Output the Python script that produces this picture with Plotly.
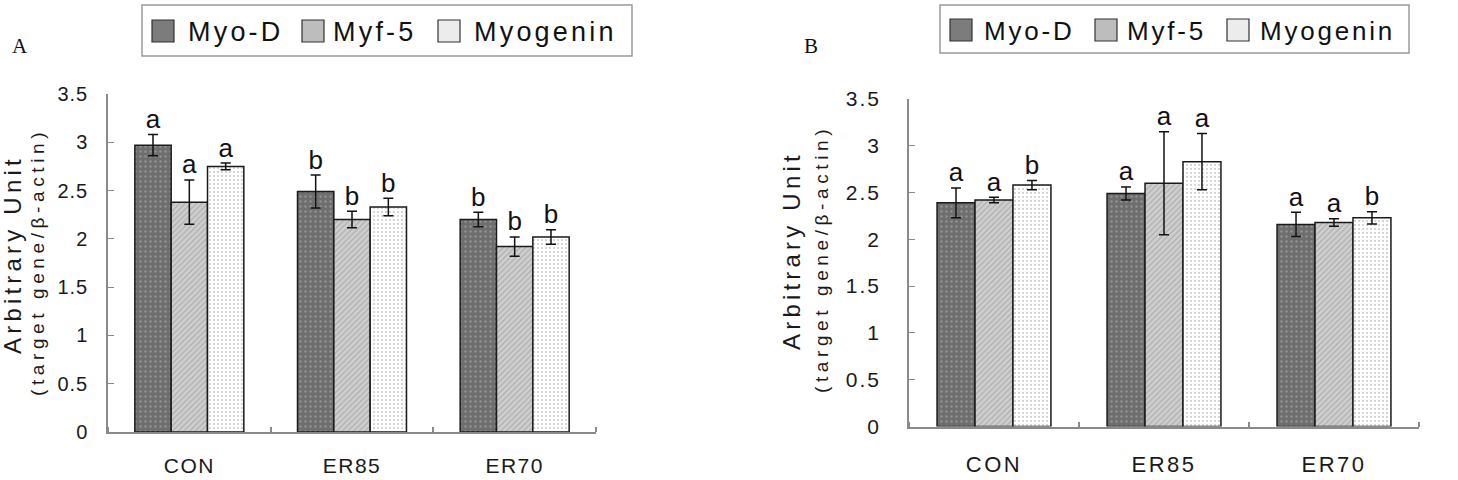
import plotly.graph_objects as go

# ---------------- data ----------------
categories = ["CON", "ER85", "ER70"]
series_names = ["Myo-D", "Myf-5", "Myogenin"]

# Panel A
a_myod = [2.97, 2.49, 2.20]
a_myod_err = [0.11, 0.17, 0.075]
a_myf5 = [2.38, 2.20, 1.92]
a_myf5_err = [0.23, 0.085, 0.10]
a_myog = [2.75, 2.33, 2.02]
a_myog_err = [0.035, 0.09, 0.075]
a_myod_sig = ["a", "b", "b"]
a_myf5_sig = ["a", "b", "b"]
a_myog_sig = ["a", "b", "b"]

# Panel B
b_myod = [2.39, 2.49, 2.16]
b_myod_err = [0.16, 0.07, 0.13]
b_myf5 = [2.42, 2.60, 2.18]
b_myf5_err = [0.03, 0.55, 0.04]
b_myog = [2.58, 2.83, 2.23]
b_myog_err = [0.05, 0.30, 0.065]
b_myod_sig = ["a", "a", "a"]
b_myf5_sig = ["a", "a", "a"]
b_myog_sig = ["b", "a", "b"]

y_tickvals = [0, 0.5, 1, 1.5, 2, 2.5, 3, 3.5]
y_ticklabels = ["0", "0.5", "1", "1.5", "2", "2.5", "3", "3.5"]

panel_labels = ["A", "B"]
y_title_main = "Arbitrary Unit"
y_title_sub = "(target gene/β-actin)"

# ---------------- style ----------------
W, H = 1458, 480
FONT = "Liberation Sans, Arial, sans-serif"
BARGAP = 0.33
styles = [
    dict(bg="#6e6e6e", fg="#b5b5b5", shape=".", size=5, solidity=0.18, swatch="#7c7c7c"),
    dict(bg="#cfcfcf", fg="#8c8c8c", shape="/", size=4, solidity=0.3, swatch="#bdbdbd"),
    dict(bg="#ffffff", fg="#9a9a9a", shape=".", size=4, solidity=0.22, swatch="#ececec"),
]


def ls(text, px):
    return f'<span style="letter-spacing:{px}px">{text}</span>'


def px_x(x):
    return x / W


def px_y(y):
    return (H - y) / H


fig = go.Figure()

panels = [
    dict(vals=[a_myod, a_myf5, a_myog], errs=[a_myod_err, a_myf5_err, a_myog_err],
         sigs=[a_myod_sig, a_myf5_sig, a_myog_sig], xa="x", ya="y"),
    dict(vals=[b_myod, b_myf5, b_myog], errs=[b_myod_err, b_myf5_err, b_myog_err],
         sigs=[b_myod_sig, b_myf5_sig, b_myog_sig], xa="x2", ya="y2"),
]

xpos = list(range(len(categories)))
bw = (1 - BARGAP) / len(series_names)

for p in panels:
    for j, name in enumerate(series_names):
        st = styles[j]
        fig.add_trace(go.Bar(
            x=xpos, y=p["vals"][j], name=name, offsetgroup=str(j),
            xaxis=p["xa"], yaxis=p["ya"], showlegend=False,
            marker=dict(color=st["bg"],
                        pattern=dict(shape=st["shape"], bgcolor=st["bg"], fgcolor=st["fg"],
                                     size=st["size"], solidity=st["solidity"], fillmode="overlay"),
                        line=dict(color="#1a1a1a", width=1.5)),
            error_y=dict(type="data", array=p["errs"][j], color="#111", thickness=1.5, width=5),
        ))
    for j, name in enumerate(series_names):
        fig.add_trace(go.Scatter(
            x=[i + (j - 1) * bw for i in xpos],
            y=[v + e for v, e in zip(p["vals"][j], p["errs"][j])],
            text=p["sigs"][j], mode="text", textposition="top center",
            textfont=dict(family=FONT, size=26, color="#111"),
            xaxis=p["xa"], yaxis=p["ya"], showlegend=False, hoverinfo="skip",
        ))

common_x = dict(range=[-0.5, 2.5], tickmode="array", tickvals=xpos, ticks="",
                showline=True, linecolor="#8a8a8a", linewidth=1.5, showgrid=False,
                zeroline=False, automargin=False,
                minor=dict(tickmode="array", tickvals=[-0.5, 0.5, 1.5, 2.5], ticks="inside",
                           ticklen=5, tickcolor="#8a8a8a", tickwidth=1.5, showgrid=False))
common_y = dict(range=[0, 3.5], tickmode="array", tickvals=y_tickvals,
                ticks="inside", ticklen=6, tickcolor="#8a8a8a", tickwidth=1,
                showline=True, linecolor="#8a8a8a", linewidth=1.5, showgrid=False,
                zeroline=False, automargin=False)

fig.update_layout(
    width=W, height=H, margin=dict(l=0, r=0, t=0, b=0),
    paper_bgcolor="white", plot_bgcolor="white",
    barmode="group", bargap=BARGAP, bargroupgap=0,
    showlegend=False,
    xaxis=dict(common_x, domain=[px_x(108), px_x(596)], anchor="y",
               ticktext=[ls(c, 1.5) for c in categories], ticklabelstandoff=14,
               tickfont=dict(family=FONT, size=21, color="#1a1a1a")),
    yaxis=dict(common_y, domain=[px_y(432), px_y(94)], anchor="x",
               ticktext=[ls(t, 1) for t in y_ticklabels], ticklabelstandoff=14,
               tickfont=dict(family=FONT, size=20, color="#1a1a1a")),
    xaxis2=dict(common_x, domain=[px_x(909), px_x(1419)], anchor="y2",
                ticktext=[ls(c, 2.5) for c in categories], ticklabelstandoff=17,
                tickfont=dict(family=FONT, size=22, color="#1a1a1a")),
    yaxis2=dict(common_y, domain=[px_y(426.5), px_y(99)], anchor="x2",
                ticktext=[ls(t, 2) for t in y_ticklabels], ticklabelstandoff=22,
                tickfont=dict(family=FONT, size=21, color="#1a1a1a")),
)

annotations = []
shapes = []

# panel letters
for lab, (lx, ly) in zip(panel_labels, [(20, 46), (811, 46)]):
    annotations.append(dict(text=lab, x=px_x(lx), y=px_y(ly), xref="paper", yref="paper",
                            showarrow=False, xanchor="center", yanchor="middle",
                            font=dict(family="Liberation Serif, Times New Roman, serif",
                                      size=21, color="#111")))

# y-axis titles
for (mx, my, sx, sy) in [(12, 255, 37, 262), (791, 251, 821, 259)]:
    annotations.append(dict(text=ls(y_title_main, 4.2), x=px_x(mx), y=px_y(my), xref="paper",
                            yref="paper", showarrow=False, textangle=-90,
                            xanchor="center", yanchor="middle",
                            font=dict(family=FONT, size=24, color="#1a1a1a")))
    annotations.append(dict(text=ls(y_title_sub, 4.6), x=px_x(sx), y=px_y(sy), xref="paper",
                            yref="paper", showarrow=False, textangle=-90,
                            xanchor="center", yanchor="middle",
                            font=dict(family=FONT, size=19, color="#1a1a1a")))

# custom legends
legend_specs = [
    dict(box=(142, 5, 632, 56), sw=[152, 302, 438], tx=[186, 331, 472], sy=(20, 42), fs=27, sp=3.2),
    dict(box=(940, 5, 1409, 53), sw=[950, 1095, 1227], tx=[982, 1125, 1258], sy=(19, 41), fs=26, sp=2.8),
]
for spec in legend_specs:
    x0, y0, x1, y1 = spec["box"]
    shapes.append(dict(type="rect", xref="paper", yref="paper",
                       x0=px_x(x0), x1=px_x(x1), y0=px_y(y1), y1=px_y(y0),
                       line=dict(color="#9a9a9a", width=1.5), fillcolor="white"))
    for j, name in enumerate(series_names):
        sx0 = spec["sw"][j]
        shapes.append(dict(type="rect", xref="paper", yref="paper",
                           x0=px_x(sx0), x1=px_x(sx0 + 22),
                           y0=px_y(spec["sy"][1]), y1=px_y(spec["sy"][0]),
                           line=dict(color="#333", width=1.2), fillcolor=styles[j]["swatch"]))
        annotations.append(dict(text=ls(name, spec["sp"]), x=px_x(spec["tx"][j]),
                                y=px_y((spec["sy"][0] + spec["sy"][1]) / 2 + 1),
                                xref="paper", yref="paper", showarrow=False,
                                xanchor="left", yanchor="middle",
                                font=dict(family=FONT, size=spec["fs"], color="#111")))

fig.update_layout(annotations=annotations, shapes=shapes)
fig.write_html("out.html")
